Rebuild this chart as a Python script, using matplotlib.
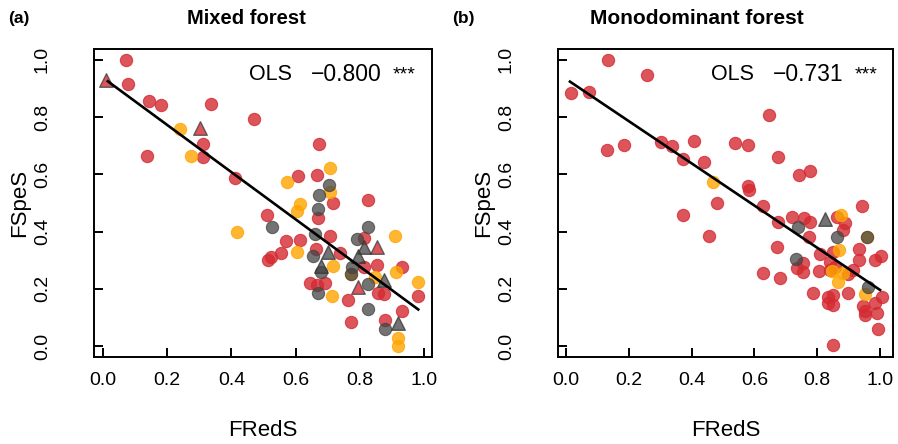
import matplotlib
matplotlib.use('Agg')
import matplotlib.pyplot as plt

plt.rcParams['font.family'] = ['Liberation Sans', 'DejaVu Sans']

'---------- Data: (a) Mixed forest ----------'
a_red_x = [0.072, 0.077, 0.143, 0.18, 0.336, 0.471, 0.31, 0.31, 0.136, 0.41,
           0.674, 0.608, 0.668, 0.826, 0.717, 0.669, 0.512, 0.707, 0.57, 0.614,
           0.553, 0.523, 0.515, 0.664, 0.645, 0.666, 0.692, 0.814, 0.738, 0.814,
           0.855, 0.93, 0.858, 0.876, 0.982, 0.762, 0.93, 0.773, 0.88]
a_red_y = [1.0, 0.915, 0.857, 0.843, 0.846, 0.794, 0.706, 0.662, 0.663, 0.586,
           0.706, 0.594, 0.598, 0.512, 0.499, 0.446, 0.458, 0.385, 0.367, 0.371,
           0.324, 0.31, 0.30, 0.339, 0.221, 0.213, 0.219, 0.376, 0.326, 0.277,
           0.283, 0.275, 0.187, 0.182, 0.176, 0.161, 0.124, 0.083, 0.091]
a_orange_x = [0.24, 0.274, 0.418, 0.574, 0.707, 0.707, 0.614, 0.605, 0.605, 0.717,
              0.712, 0.91, 0.913, 0.982, 0.847, 0.918, 0.918, 0.773]
a_orange_y = [0.758, 0.663, 0.40, 0.574, 0.621, 0.538, 0.497, 0.472, 0.33, 0.28,
              0.176, 0.385, 0.26, 0.225, 0.242, 0.03, 0.0, 0.252]
a_gray_x = [0.705, 0.673, 0.669, 0.527, 0.66, 0.655, 0.68, 0.671, 0.826, 0.79,
            0.775, 0.773, 0.826, 0.826, 0.88]
a_gray_y = [0.563, 0.527, 0.479, 0.417, 0.392, 0.316, 0.26, 0.184, 0.415, 0.373,
            0.277, 0.252, 0.217, 0.129, 0.059]
a_tri_gray_x = [0.70, 0.679, 0.814, 0.793, 0.876, 0.918]
a_tri_gray_y = [0.33, 0.28, 0.345, 0.315, 0.231, 0.082]
a_tri_red_x = [0.01, 0.302, 0.855, 0.793]
a_tri_red_y = [0.928, 0.761, 0.345, 0.207]
a_fit_x = [0.015, 0.982]
a_fit_y = [0.925, 0.128]
a_coef = '\u22120.800'

'---------- Data: (b) Monodominant forest ----------'
b_red_x = [0.015, 0.074, 0.135, 0.259, 0.132, 0.186, 0.303, 0.337, 0.409, 0.374,
           0.44, 0.374, 0.455, 0.646, 0.538, 0.581, 0.676, 0.742, 0.777, 0.581,
           0.584, 0.482, 0.626, 0.942, 0.676, 0.719, 0.758, 0.777, 0.862, 0.889,
           0.883, 0.775, 0.671, 0.849, 0.934, 0.984, 1.003, 0.934, 0.756, 0.735,
           0.754, 0.809, 0.841, 0.857, 0.841, 0.899, 0.915, 0.804, 0.626, 0.682,
           1.005, 0.788, 0.833, 0.851, 0.835, 0.851, 0.899, 0.947, 0.952, 0.952,
           0.984, 0.989, 0.993, 0.851]
b_red_y = [0.884, 0.887, 0.998, 0.948, 0.685, 0.703, 0.714, 0.699, 0.717, 0.654,
           0.642, 0.458, 0.385, 0.808, 0.709, 0.703, 0.662, 0.598, 0.612, 0.56,
           0.545, 0.499, 0.49, 0.49, 0.435, 0.452, 0.449, 0.435, 0.452, 0.431,
           0.406, 0.38, 0.347, 0.33, 0.339, 0.301, 0.315, 0.301, 0.291, 0.272,
           0.26, 0.322, 0.295, 0.277, 0.266, 0.252, 0.266, 0.262, 0.254, 0.237,
           0.172, 0.186, 0.17, 0.178, 0.149, 0.143, 0.186, 0.14, 0.123, 0.108,
           0.149, 0.116, 0.059, 0.003]
b_orange_x = [0.469, 0.875, 0.87, 0.846, 0.883, 0.867, 0.952, 0.958]
b_orange_y = [0.574, 0.458, 0.336, 0.263, 0.256, 0.225, 0.182, 0.382]
b_gray_x = [0.74, 0.862, 0.958, 0.732, 0.963]
b_gray_y = [0.415, 0.38, 0.382, 0.304, 0.207]
b_tri_gray_x = [0.825]
b_tri_gray_y = [0.444]
b_tri_red_x = []
b_tri_red_y = []
b_fit_x = [0.013, 1.0]
b_fit_y = [0.924, 0.196]
b_coef = '\u22120.731'

ticks = [0.0, 0.2, 0.4, 0.6, 0.8, 1.0]
tick_labels = ['0.0', '0.2', '0.4', '0.6', '0.8', '1.0']

RED = '#D42A32'
ORANGE = '#FFA500'
GRAY = '#444444'

fig = plt.figure(figsize=(8.98, 4.44), dpi=100)


def panel(rect, xlim, rx, ry, ox, oy, gx, gy, tgx, tgy, trx, try_, fx, fy,
          coef, text_x):
    ax = fig.add_axes(rect)
    s = 78
    ax.scatter(rx, ry, s=s, color=RED, alpha=0.8, edgecolor=RED, linewidth=0.8, zorder=2)
    ax.scatter(ox, oy, s=s, color=ORANGE, alpha=0.8, edgecolor=ORANGE, linewidth=0.8, zorder=3)
    ax.scatter(gx, gy, s=s, color=GRAY, alpha=0.75, edgecolor=GRAY, linewidth=0.8, zorder=4)
    if len(trx):
        ax.scatter(trx, try_, s=95, marker='^', color=RED, alpha=0.8,
                   edgecolor='#444444', linewidth=1.0, zorder=5)
    ax.scatter(tgx, tgy, s=95, marker='^', color=GRAY, alpha=0.75,
               edgecolor='#333333', linewidth=1.0, zorder=5)
    ax.plot(fx, fy, color='black', linewidth=1.9, zorder=6)
    ax.set_xlim(xlim)
    ax.set_ylim(-0.038, 1.038)
    ax.set_xticks(ticks)
    ax.set_xticklabels(tick_labels)
    ax.set_yticks(ticks)
    ax.set_yticklabels(tick_labels, rotation=90, va='center')
    ax.tick_params(direction='in', length=6.5, width=1.4, labelsize=14, color='black')
    ax.tick_params(axis='x', pad=11)
    ax.tick_params(axis='y', pad=31)
    for sp in ax.spines.values():
        sp.set_linewidth(1.4)
    ax.set_xlabel('FRedS', fontsize=16, labelpad=22)
    ax.set_ylabel('FSpeS', fontsize=16, labelpad=3)
    ax.text(text_x[0], 0.948, 'OLS', fontsize=15.5, va='center', ha='left', zorder=7)
    ax.text(text_x[1], 0.948, coef, fontsize=16.5, va='center', ha='center', zorder=7)
    ax.text(text_x[2], 0.948, '***', fontsize=14, va='center', ha='left', zorder=7)
    return ax


ax1 = panel([0.1047, 0.196, 0.3764, 0.6937], (-0.028, 1.025),
            a_red_x, a_red_y, a_orange_x, a_orange_y, a_gray_x, a_gray_y,
            a_tri_gray_x, a_tri_gray_y, a_tri_red_x, a_tri_red_y,
            a_fit_x, a_fit_y, a_coef, (0.455, 0.758, 0.903))
ax2 = panel([0.6214, 0.196, 0.373, 0.6937], (-0.025, 1.041),
            b_red_x, b_red_y, b_orange_x, b_orange_y, b_gray_x, b_gray_y,
            b_tri_gray_x, b_tri_gray_y, b_tri_red_x, b_tri_red_y,
            b_fit_x, b_fit_y, b_coef, (0.462, 0.771, 0.92))

fig.text(246 / 898, 1 - 19 / 444, 'Mixed forest', fontsize=14.5, fontweight='bold',
         ha='center', va='center')
fig.text(697 / 898, 1 - 19 / 444, 'Monodominant forest', fontsize=15, fontweight='bold',
         ha='center', va='center')
fig.text(8 / 898, 1 - 19 / 444, '(a)', fontsize=12.5, fontweight='bold', ha='left', va='center')
fig.text(452 / 898, 1 - 19 / 444, '(b)', fontsize=12.5, fontweight='bold', ha='left', va='center')

plt.savefig('out.png', dpi=100)
